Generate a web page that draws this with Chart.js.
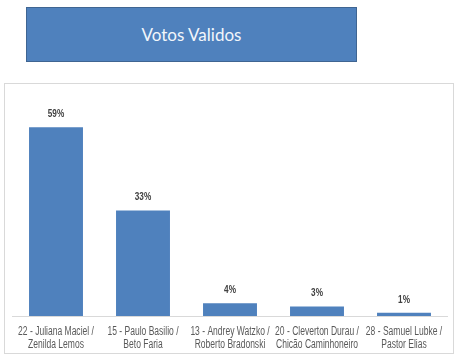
<!DOCTYPE html>
<html>
<head>
<meta charset="utf-8">
<script src="https://cdn.jsdelivr.net/npm/chart.js@4/dist/chart.umd.min.js"></script>
<style>
  html, body { margin: 0; padding: 0; background: #fff; width: 464px; height: 357px; overflow: hidden; }
  #title {
    position: absolute; left: 26px; top: 7px; width: 329px; height: 53px;
    background: #4F81BD; border: 1px solid #3F6592;
    color: #F2F6FB; font-family: Lato, "Open Sans", sans-serif; font-size: 17px;
    display: flex; align-items: center; justify-content: center;
  }
  #box {
    position: absolute; left: 4px; top: 83px; width: 448px; height: 269px;
    border: 1px solid #D9D9D9;
  }
  #box canvas { display: block; }
</style>
</head>
<body>
<div id="title">Votos Validos</div>
<div id="box"><canvas id="c" width="448" height="269"></canvas></div>
<script>
const categories = [
  ["22 - Juliana Maciel /", "Zenilda Lemos"],
  ["15 - Paulo Basilio /", "Beto Faria"],
  ["13 - Andrey Watzko /", "Roberto Bradonski"],
  ["20 - Cleverton Durau /", "Chicão Caminhoneiro"],
  ["28 - Samuel Lubke /", "Pastor Elias"]
];
const values = [59, 33, 4, 3, 1];
const valueLabels = ["59%", "33%", "4%", "3%", "1%"];

const sans = '"Liberation Sans", Arial, sans-serif';

// draws condensed text (emulating Arial Narrow)
function narrowText(ctx, text, x, y, sx) {
  ctx.save();
  ctx.translate(x, y);
  ctx.scale(sx, 1);
  ctx.fillText(text, 0, 0);
  ctx.restore();
}

const labelPlugin = {
  id: 'valueLabels',
  afterDatasetsDraw(chart) {
    const ctx = chart.ctx;
    const meta = chart.getDatasetMeta(0);
    ctx.save();
    ctx.font = 'bold 10px ' + sans;
    ctx.fillStyle = '#404040';
    ctx.textAlign = 'center';
    ctx.textBaseline = 'alphabetic';
    meta.data.forEach((bar, i) => {
      narrowText(ctx, valueLabels[i], bar.x, bar.y - 10, 0.82);
    });
    // category labels
    const xs = chart.scales.x;
    const base = xs.top;
    ctx.font = '12px ' + sans;
    ctx.fillStyle = '#595959';
    chart.data.labels.forEach((lines, i) => {
      const cx = xs.getPixelForValue(i);
      lines.forEach((line, j) => {
        narrowText(ctx, line, cx, base + 19 + j * 13, 0.71);
      });
    });
    ctx.restore();
  }
};

new Chart(document.getElementById('c'), {
  type: 'bar',
  data: {
    labels: categories,
    datasets: [{
      data: values,
      backgroundColor: '#4F81BD',
      borderWidth: 0,
      categoryPercentage: 1,
      barPercentage: 0.62
    }]
  },
  options: {
    responsive: false,
    animation: false,
    layout: { padding: { left: 7.5, right: 5.5, top: 8, bottom: 0 } },
    plugins: { legend: { display: false }, tooltip: { enabled: false } },
    scales: {
      y: { display: false, min: 0, max: 70 },
      x: {
        grid: { display: false, drawTicks: false },
        border: { display: true, color: '#D9D9D9', width: 1 },
        ticks: { display: false },
        afterFit(scale) { scale.height = 37; }
      }
    }
  },
  plugins: [labelPlugin]
});
</script>
</body>
</html>
